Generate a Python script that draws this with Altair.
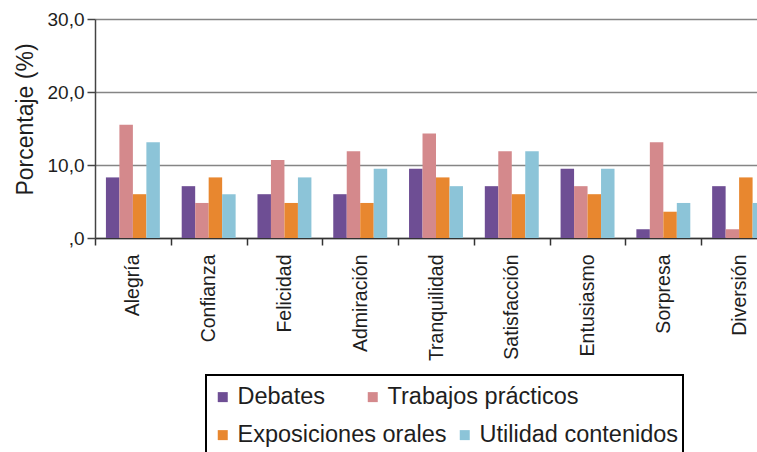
import json

import altair as alt
import pandas as pd

# Emociones (eje X) y actividades (series)
categorias = ["Alegría", "Confianza", "Felicidad", "Admiración", "Tranquilidad",
              "Satisfacción", "Entusiasmo", "Sorpresa", "Diversión"]
series = ["Debates", "Trabajos prácticos", "Exposiciones orales", "Utilidad contenidos"]

# Porcentaje de respuestas por emoción
debates = [8.3, 7.1, 6.0, 6.0, 9.5, 7.1, 9.5, 1.2, 7.1]
trabajos_practicos = [15.5, 4.8, 10.7, 11.9, 14.3, 11.9, 7.1, 13.1, 1.2]
exposiciones_orales = [6.0, 8.3, 4.8, 4.8, 8.3, 6.0, 6.0, 3.6, 8.3]
utilidad_contenidos = [13.1, 6.0, 8.3, 9.5, 7.1, 11.9, 9.5, 4.8, 4.8]

colores = ["#6E4E94", "#D4898C", "#E8872F", "#8CC4D8"]

y_ticks = [0, 10, 20, 30]
y_tick_labels = [",0", "10,0", "20,0", "30,0"]

rows = []
for nombre, valores in zip(series, [debates, trabajos_practicos,
                                     exposiciones_orales, utilidad_contenidos]):
    for emocion, v in zip(categorias, valores):
        rows.append({"Emoción": emocion, "Actividad": nombre, "Porcentaje": v})
df = pd.DataFrame(rows)

y_label_expr = f"{json.dumps(y_tick_labels)}[indexof({json.dumps(y_ticks)}, datum.value)]"

FONT = "Liberation Sans"
TEXT = "#1e1e1e"

x_enc = alt.X(
    "Emoción:N",
    sort=categorias,
    title=None,
    scale=alt.Scale(range=[0, 682], paddingInner=0, paddingOuter=0),
    axis=alt.Axis(
        tickBand="extent",
        labelAngle=270,
        labelFont=FONT,
        labelFontSize=19.5,
        labelColor=TEXT,
        labelPadding=9,
        tickSize=7,
        tickColor="#333333",
        tickWidth=1.5,
        domainColor="#333333",
        domainWidth=1.5,
    ),
)

xoff_enc = alt.XOffset(
    "Actividad:N",
    sort=series,
    scale=alt.Scale(domain=series, paddingInner=0, paddingOuter=0.81),
)

y_enc = alt.Y(
    "Porcentaje:Q",
    scale=alt.Scale(domain=[0, 30]),
    axis=alt.Axis(
        values=y_ticks,
        labelExpr=y_label_expr,
        title="Porcentaje (%)",
        titleFont=FONT,
        titleFontSize=23,
        titleFontWeight="normal",
        titleColor=TEXT,
        titleBaseline="alphabetic",
        titleX=-63,
        titleY=100,
        labelFont=FONT,
        labelFontSize=19,
        labelColor=TEXT,
        labelPadding=3,
        tickSize=8,
        tickColor="#444444",
        tickWidth=1.5,
        domainColor="#444444",
        domainWidth=1.5,
        grid=True,
        gridColor="#858585",
        gridWidth=1.3,
    ),
)


def legend_row(x, y, column_padding):
    # One horizontal legend row (two entries) inside the shared frame
    return alt.Legend(
        title=None,
        orient="none",
        legendX=x,
        legendY=y,
        direction="horizontal",
        columnPadding=column_padding,
        padding=9,
        symbolType="square",
        symbolSize=100,
        symbolStrokeWidth=0,
        labelFont=FONT,
        labelFontSize=23.5,
        labelColor=TEXT,
        labelOffset=3,
        labelLimit=400,
    )


def bars(group, legend):
    # Bars for a pair of activities, with its own colour legend row
    return (
        alt.Chart(df)
        .transform_filter(alt.FieldOneOfPredicate(field="Actividad", oneOf=group))
        .mark_bar()
        .encode(
            x=x_enc,
            xOffset=xoff_enc,
            y=y_enc,
            color=alt.Color(
                "Actividad:N",
                sort=group,
                scale=alt.Scale(domain=group, range=[colores[series.index(s)] for s in group]),
                legend=legend,
            ),
        )
    )


fila1 = bars(series[:2], legend_row(107, 357, 35))
fila2 = bars(series[2:], legend_row(107, 395, 6))

# Frame around the two legend rows
marco = (
    alt.Chart(alt.InlineData(values=[{}]))
    .mark_rect(filled=False, stroke="#000000", strokeWidth=2)
    .encode(x=alt.value(111), x2=alt.value(588), y=alt.value(356), y2=alt.value(446))
)

chart = (
    alt.layer(fila1, fila2, marco)
    .resolve_scale(color="independent")
    .properties(
        width=662,
        height=219,
        autosize=alt.AutoSizeParams(type="none"),
        padding={"left": 95, "top": 19, "right": 0, "bottom": 214},
    )
    .configure_view(stroke=None)
)

chart.save("out.html", embed_options={"renderer": "svg", "actions": False})
